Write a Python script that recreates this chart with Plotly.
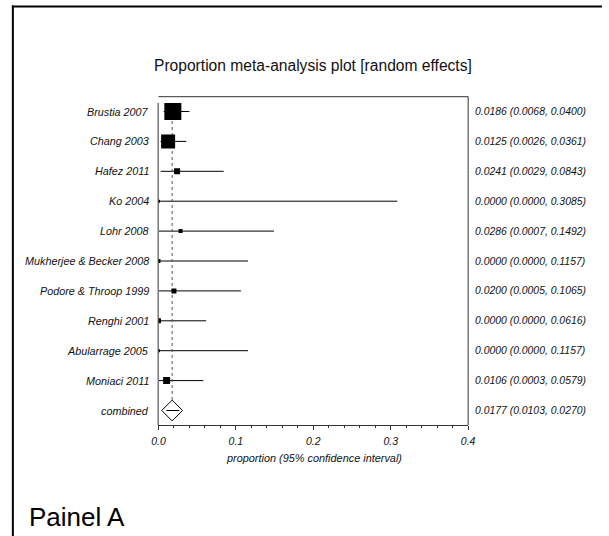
import plotly.graph_objects as go

# ---------------- data ----------------
studies = ["Brustia 2007", "Chang 2003", "Hafez 2011", "Ko 2004", "Lohr 2008",
           "Mukherjee & Becker 2008", "Podore & Throop 1999", "Renghi 2001",
           "Abularrage 2005", "Moniaci 2011"]
proportion = [0.0186, 0.0125, 0.0241, 0.0000, 0.0286, 0.0000, 0.0200, 0.0000, 0.0000, 0.0106]
ci_lower = [0.0068, 0.0026, 0.0029, 0.0000, 0.0007, 0.0000, 0.0005, 0.0000, 0.0000, 0.0003]
ci_upper = [0.0400, 0.0361, 0.0843, 0.3085, 0.1492, 0.1157, 0.1065, 0.0616, 0.1157, 0.0579]
combined_label = "combined"
combined_p = 0.0177
combined_lo = 0.0103
combined_hi = 0.0270
x_ticks = [0.0, 0.1, 0.2, 0.3, 0.4]

# ---------------- styling ----------------
box_px = [17, 14, 6, 3, 4, 4, 5, 5, 3, 7]   # square sizes (study weights)
W, H = 609, 536
FONT = "Liberation Sans, Arial, sans-serif"
INK = "#111111"

def px_x(p):
    return p / W

def px_y(p):
    return 1 - p / H

n = len(studies)
rows = list(range(n))
comb_row = n

x_dom = [px_x(155), px_x(472)]
y_dom = [px_y(425), px_y(96.7)]
row0_px, row_step = 111.5, 29.9
y_top = (96.7 - row0_px) / row_step
y_bot = (425 - row0_px) / row_step

fig = go.Figure()

# CI lines
cx, cy = [], []
for i in rows:
    cx += [ci_lower[i], ci_upper[i], None]
    cy += [i, i, None]
cx += [combined_lo, combined_hi, None]
cy += [comb_row, comb_row, None]
fig.add_trace(go.Scatter(x=cx, y=cy, mode="lines", opacity=1,
                         line=dict(color="black", width=1), hoverinfo="skip"))

# dotted pooled line
diamond_half_rows = 10.3 / row_step
fig.add_trace(go.Scatter(x=[combined_p, combined_p],
                         y=[(103 - row0_px) / row_step, comb_row - diamond_half_rows],
                         mode="lines", opacity=1,
                         line=dict(color="#555555", width=1, dash="dot"),
                         hoverinfo="skip"))

# study squares
fig.add_trace(go.Scatter(x=proportion, y=rows, mode="markers", opacity=1,
                         marker=dict(symbol="square", size=box_px, color="black",
                                     opacity=1, line=dict(width=0))))

# combined diamond
fig.add_trace(go.Scatter(x=[combined_p], y=[comb_row], mode="markers", opacity=1,
                         marker=dict(symbol="diamond-open", size=16, color="black",
                                     opacity=1, line=dict(width=1, color="black"))))

fig.update_layout(
    width=W, height=H, autosize=False, showlegend=False,
    margin=dict(l=0, r=0, t=0, b=0, pad=0),
    paper_bgcolor="white", plot_bgcolor="white",
    font=dict(family=FONT, color=INK),
    xaxis=dict(domain=x_dom, range=[0, 0.4], tickvals=x_ticks, tickformat=".1f",
               showgrid=False, zeroline=False, showline=True, linecolor="#333333",
               linewidth=1, ticks="outside", ticklen=4, tickcolor="#333333",
               ticklabelstandoff=2,
               tickfont=dict(size=10.5, style="italic", family=FONT, color=INK),
               minor=dict(dtick=0.02, ticks="outside", ticklen=2, tickcolor="#333333")),
    yaxis=dict(domain=y_dom, range=[y_bot, y_top], showgrid=False, zeroline=False,
               showticklabels=False, showline=False),
)

shapes = []
# plot frame: top, right, left
shapes.append(dict(type="line", xref="paper", yref="paper",
                   x0=px_x(155), x1=px_x(472), y0=px_y(96.7), y1=px_y(96.7),
                   line=dict(color="#333333", width=1)))
shapes.append(dict(type="line", xref="paper", yref="paper",
                   x0=px_x(472), x1=px_x(472), y0=px_y(96.7), y1=px_y(425),
                   line=dict(color="#333333", width=1)))
shapes.append(dict(type="line", xref="paper", yref="paper",
                   x0=px_x(154.7), x1=px_x(154.7), y0=px_y(103), y1=px_y(425),
                   line=dict(color="#333333", width=1)))
# outer figure border (top and left)
shapes.append(dict(type="line", xref="paper", yref="paper",
                   x0=px_x(5), x1=1, y0=px_y(6.5), y1=px_y(6.5),
                   line=dict(color="black", width=2)))
shapes.append(dict(type="line", xref="paper", yref="paper",
                   x0=px_x(6), x1=px_x(6), y0=px_y(5.5), y1=0,
                   line=dict(color="black", width=2)))
fig.update_layout(shapes=shapes)

ann = []
labels = studies + [combined_label]
for i, lab in enumerate(labels):
    ann.append(dict(text=lab, xref="paper", yref="y", x=px_x(147), y=i,
                    xanchor="right", yanchor="middle", showarrow=False,
                    font=dict(size=10.8, style="italic", family=FONT, color=INK)))
vals = list(zip(proportion, ci_lower, ci_upper)) + [(combined_p, combined_lo, combined_hi)]
for i, (p, lo, hi) in enumerate(vals):
    ann.append(dict(text=f"{p:.4f} ({lo:.4f}, {hi:.4f})", xref="paper", yref="y",
                    x=px_x(477), y=i, xanchor="left", yanchor="middle", showarrow=False,
                    font=dict(size=10.4, style="italic", family=FONT, color=INK)))
ann.append(dict(text="proportion (95% confidence interval)", xref="paper", yref="paper",
                x=px_x(314), y=px_y(458), xanchor="center", yanchor="middle",
                showarrow=False,
                font=dict(size=10.9, style="italic", family=FONT, color=INK)))
ann.append(dict(text="Proportion meta-analysis plot [random effects]", xref="paper",
                yref="paper", x=px_x(313), y=px_y(66), xanchor="center", yanchor="middle",
                showarrow=False, font=dict(size=15.6, family=FONT, color=INK)))
ann.append(dict(text="Painel A", xref="paper", yref="paper", x=px_x(20), y=px_y(517),
                xanchor="left", yanchor="middle", showarrow=False,
                font=dict(size=26, family=FONT, color="black")))
fig.update_layout(annotations=ann)

fig.write_html("out.html", config={"responsive": False})
